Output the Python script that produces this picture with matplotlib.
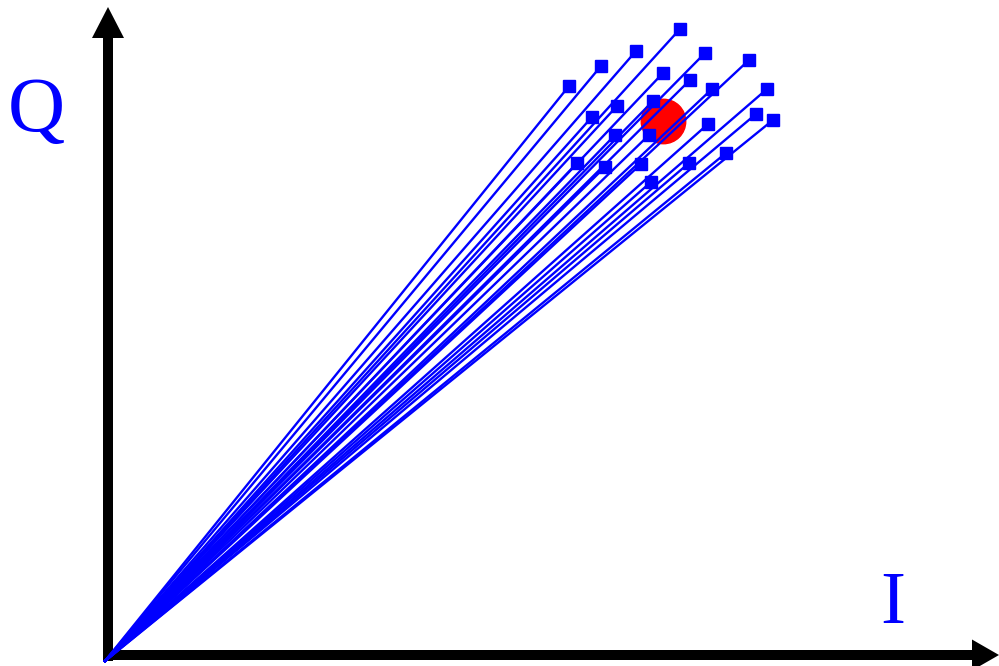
import matplotlib.pyplot as plt
import numpy as np

# end points of the received symbols (pixel-like units, y grows downward)
pt_x = [680, 636, 705, 601, 749, 663, 569, 690, 712, 767, 617, 653,
        592, 756, 773, 708, 615, 649, 577, 605, 641, 689, 726, 651]
pt_y = [29, 51, 53, 66, 60, 73, 86, 80, 89, 89, 106, 101,
        117, 114, 120, 124, 135, 135, 163, 167, 164, 163, 153, 182]

origin = (105, 661)
target = (663, 121)

fig = plt.figure(figsize=(9.99, 6.66), dpi=100)
ax = fig.add_axes([0, 0, 1, 1])
ax.set_xlim(0, 999)
ax.set_ylim(666, 0)
ax.axis("off")

# axes arrows
ax.arrow(108, 661, 0, -654, width=10, head_width=32, head_length=31,
         length_includes_head=True, color="black", lw=0, zorder=1)
ax.arrow(103, 655, 896, 0, width=10, head_width=31, head_length=27,
         length_includes_head=True, color="black", lw=0, zorder=1)

# red reference point
ax.plot(target[0], target[1], "o", color="red", markersize=32, zorder=2)

# vectors
for x, y in zip(pt_x, pt_y):
    ax.plot([origin[0], x], [origin[1], y], color="blue", lw=1.7, zorder=3)
ax.plot(pt_x, pt_y, "s", color="blue", markersize=8, zorder=4, lw=0)

ax.text(36, 112, "Q", color="blue", fontsize=57, family="Liberation Serif",
        ha="center", va="center")
ax.text(893, 605, "I", color="blue", fontsize=54, family="Liberation Serif",
        ha="center", va="center")

fig.savefig("out.png", dpi=100)
